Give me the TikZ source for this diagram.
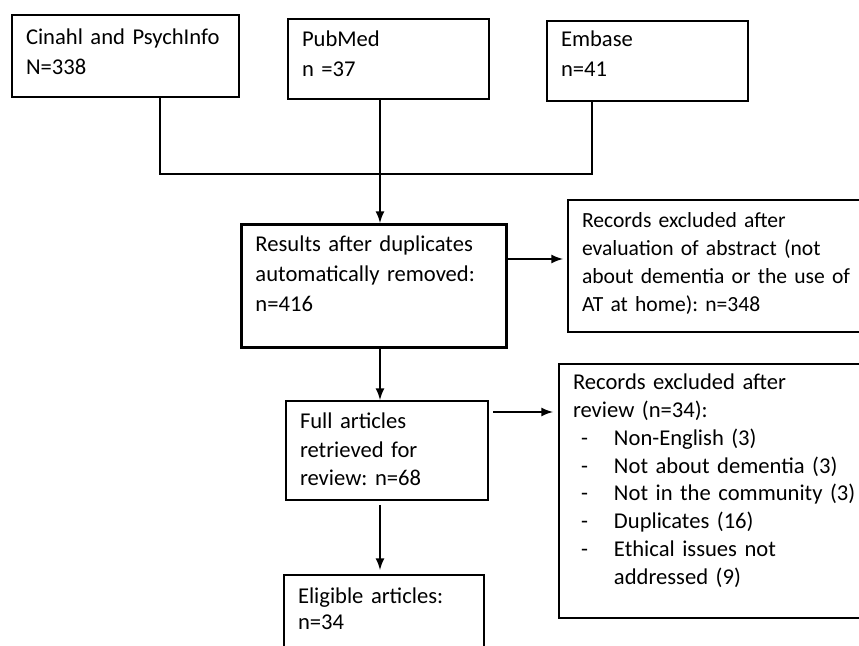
\documentclass[tikz,border=0pt]{standalone}
\usepackage{fontspec}
\setmainfont{Carlito}
\usepackage{tikz}
\usetikzlibrary{shapes,arrows}
\tikzstyle{arrow} = [line width=1pt,->,>=latex]
\tikzstyle{link} = [line width=1pt]
\tikzstyle{box} = [rectangle, draw=black, line width=1pt, anchor=north west, align=left, inner xsep=7pt, inner ysep=0pt]
\newcommand{\tail}[1]{\rule[-#1]{0pt}{#1}}
\newcommand{\fs}[1]{\fontsize{11.3}{#1}\selectfont}

\begin{document}
\frenchspacing
\begin{tikzpicture}[x=0.5pt, y=-0.5pt]
    \useasboundingbox (0,0) rectangle (859,646);
    \clip (0,0) rectangle (859,646);

    % sources
    \node (cin) [box, minimum width=113.5pt, minimum height=41pt, text width=99.5pt, font=\fs{15}] at (11,14) {Cinahl and PsychInfo\\N=338\tail{4.75pt}};
    \node (pub) [box, minimum width=100.5pt, minimum height=40pt, text width=86.5pt, font=\fs{15}] at (287,18) {PubMed\\n =37\tail{5.75pt}};
    \node (emb) [box, minimum width=100.5pt, minimum height=40pt, text width=86.5pt, font=\fs{15}] at (546,20) {Embase\\n=41\tail{7.75pt}};

    % screening
    \node (res) [box, line width=1.5pt, minimum width=132.5pt, minimum height=61.5pt, text width=118.5pt, font=\fs{15}] at (240,223) {Results after duplicates\\automatically removed:\\n=416\tail{12.25pt}};
    \node (ex1) [box, minimum width=156.5pt, minimum height=66pt, text width=142.5pt, font=\fontsize{10.8}{14}\selectfont] at (567,199) {Records excluded after\\evaluation of abstract (not\\about dementia or the use of\\AT at home): n=348\tail{3.75pt}};

    \node (ful) [box, minimum width=101pt, minimum height=49.5pt, text width=87pt, font=\fs{14.25}] at (285,400) {Full articles\\retrieved for\\review: n=68\tail{1pt}};
    \node (ex2) [box, minimum width=161pt, minimum height=127pt, text width=147pt, font=\fs{13.9}] at (558,363) {Records excluded after\\review (n=34):\\
        \hspace*{4pt}\makebox[16.5pt][l]{-}Non-English (3)\\
        \hspace*{4pt}\makebox[16.5pt][l]{-}Not about dementia (3)\\
        \hspace*{4pt}\makebox[16.5pt][l]{-}Not in the community (3)\\
        \hspace*{4pt}\makebox[16.5pt][l]{-}Duplicates (16)\\
        \hspace*{4pt}\makebox[16.5pt][l]{-}Ethical issues not\\
        \hspace*{20.5pt}addressed (9)\tail{11.75pt}};

    % included
    \node (eli) [box, minimum width=100pt, minimum height=55pt, text width=86pt, font=\fs{13}] at (283,574) {Eligible articles:\\n=34\tail{21.75pt}};

    \coordinate (jl) at (160,174);
    \coordinate (jm) at (380,174);
    \coordinate (jr) at (592,174);
    \coordinate (r1) at (500,259);
    \coordinate (r2) at (490,412);

    \draw [link] (jl |- cin.south) -- (jl) -- (jr) -- (jr |- emb.south);
    \draw [arrow] (jm |- pub.south) -- (jm |- res.north);
    \draw [arrow, shorten >=2pt] (r1 -| res.east) -- (r1 -| ex1.west);
    \draw [arrow] (jm |- res.south) -- (jm |- ful.north);
    \draw [arrow, shorten <=2pt, shorten >=2.5pt] (r2 -| ful.east) -- (r2 -| ex2.west);
    \draw [arrow, shorten <=2pt, shorten >=2pt] (jm |- ful.south) -- (jm |- eli.north);

\end{tikzpicture}
\end{document}
